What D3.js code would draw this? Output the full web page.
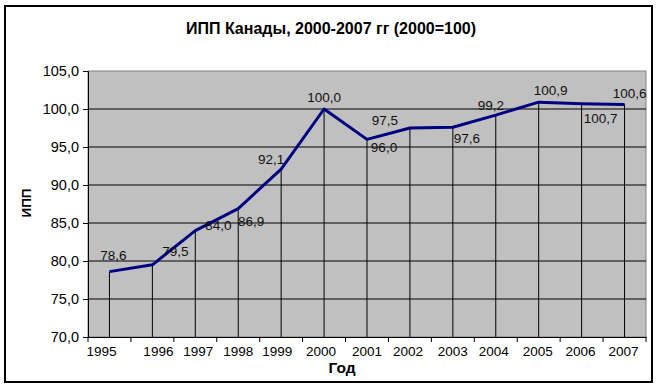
<!DOCTYPE html>
<html>
<head>
<meta charset="utf-8">
<style>
    body { margin: 0; background: #fff; }
    svg { display: block; font-family: "Liberation Sans", Arial, sans-serif; }
    .y .domain, .x .domain { stroke: #000; }
    .y .tick text { font-size: 14.5px; fill: #000; }
    .x .tick text { font-size: 13.5px; fill: #000; }
    .y .tick line, .x .tick line { stroke: #000; }
    .lbl { font-size: 13.5px; fill: #111; }
</style>
</head>
<body>
<svg width="662" height="388"></svg>
<script src="https://d3js.org/d3.v7.min.js"></script>
<script>
    // data
    let years = ["1995", "1996", "1997", "1998", "1999", "2000", "2001",
                 "2002", "2003", "2004", "2005", "2006", "2007"];
    let ipp = [78.6, 79.5, 84.0, 86.9, 92.1, 100.0, 96.0, 97.5, 97.6, 99.2, 100.9, 100.7, 100.6];
    let yTicks = [70, 75, 80, 85, 90, 95, 100, 105];

    // hand placed label offsets (like in the original sheet)
    let labelShift = [[4, -16], [23, -14], [23, -5], [13, 13], [-10, -10], [0, -12],
                      [17, 8], [-25, -8], [14, 11], [-5, -10], [12, -12], [19, 15], [5, -11]];
    let yearShift = [-8, 6, 3, 0, -4, -3, 0, -2, 0, -2, -1, -1, -1];

    let width = 662, height = 388;
    let margin = { top: 71, right: 16, bottom: 51, left: 88 };

    let svg = d3.select("svg");
    let fmt = d => d3.format(".1f")(d).replace(".", ",");

    // outer frame
    svg.append("rect")
        .attr("x", 5).attr("y", 6)
        .attr("width", 647).attr("height", 376)
        .style("fill", "#fff").style("stroke", "#000").style("stroke-width", 2);

    let x = d3.scaleBand()
        .domain(years)
        .range([margin.left, width - margin.right]);

    let y = d3.scaleLinear()
        .domain([70, 105])
        .range([height - margin.bottom, margin.top]);

    // plot area
    svg.append("rect")
        .attr("x", margin.left).attr("y", margin.top)
        .attr("width", width - margin.left - margin.right)
        .attr("height", height - margin.top - margin.bottom)
        .style("fill", "#c0c0c0")
        .style("stroke", "#808080");

    // gridlines
    svg.append("g")
        .selectAll("line")
        .data(yTicks.slice(1, -1))
        .join("line")
        .attr("x1", margin.left).attr("x2", width - margin.right)
        .attr("y1", d => y(d)).attr("y2", d => y(d))
        .style("stroke", "#000");

    // drop lines
    svg.append("g")
        .selectAll("line")
        .data(ipp)
        .join("line")
        .attr("x1", (d, i) => x(years[i]) + x.bandwidth() / 2)
        .attr("x2", (d, i) => x(years[i]) + x.bandwidth() / 2)
        .attr("y1", d => y(d))
        .attr("y2", y(70))
        .style("stroke", "#000");

    let yAxis = svg.append("g")
        .attr("class", "y axis")
        .attr("transform", `translate(${margin.left},0)`)
        .call(d3.axisLeft(y).tickValues(yTicks).tickFormat(fmt).tickSize(5).tickPadding(4));

    // x ticks sit on the category borders, labels in the middle
    let xAxis = svg.append("g")
        .attr("class", "x axis")
        .attr("transform", `translate(0,${height - margin.bottom})`)
        .call(d3.axisBottom(x).tickSize(0).tickPadding(9));

    xAxis.selectAll(".tick text")
        .attr("dx", (d, i) => yearShift[i]);

    svg.append("g")
        .selectAll("line")
        .data(years.concat(["end"]))
        .join("line")
        .attr("x1", (d, i) => margin.left + i * x.step())
        .attr("x2", (d, i) => margin.left + i * x.step())
        .attr("y1", y(70)).attr("y2", y(70) + 5)
        .style("stroke", "#000");

    let line = d3.line()
        .x((d, i) => x(years[i]) + x.bandwidth() / 2)
        .y(d => y(d));

    svg.append("path")
        .datum(ipp)
        .attr("d", line)
        .style("fill", "none")
        .style("stroke", "#000080")
        .style("stroke-width", 3)
        .style("stroke-linejoin", "round");

    svg.append("g")
        .selectAll("text")
        .data(ipp)
        .join("text")
        .attr("class", "lbl")
        .attr("x", (d, i) => x(years[i]) + x.bandwidth() / 2 + labelShift[i][0])
        .attr("y", (d, i) => y(d) + labelShift[i][1])
        .attr("dy", "0.35em")
        .style("text-anchor", "middle")
        .text(fmt);

    svg.append("text")
        .attr("x", 331).attr("y", 34)
        .style("text-anchor", "middle")
        .style("font-size", "16px")
        .style("font-weight", "bold")
        .text("ИПП Канады, 2000-2007 гг (2000=100)");

    svg.append("text")
        .attr("x", 342).attr("y", 373)
        .style("text-anchor", "middle")
        .style("font-size", "15.5px")
        .style("font-weight", "bold")
        .text("Год");

    svg.append("text")
        .attr("transform", "translate(31,203) rotate(-90)")
        .style("text-anchor", "middle")
        .style("font-size", "13.5px")
        .style("font-weight", "bold")
        .text("ИПП");
</script>
</body>
</html>
